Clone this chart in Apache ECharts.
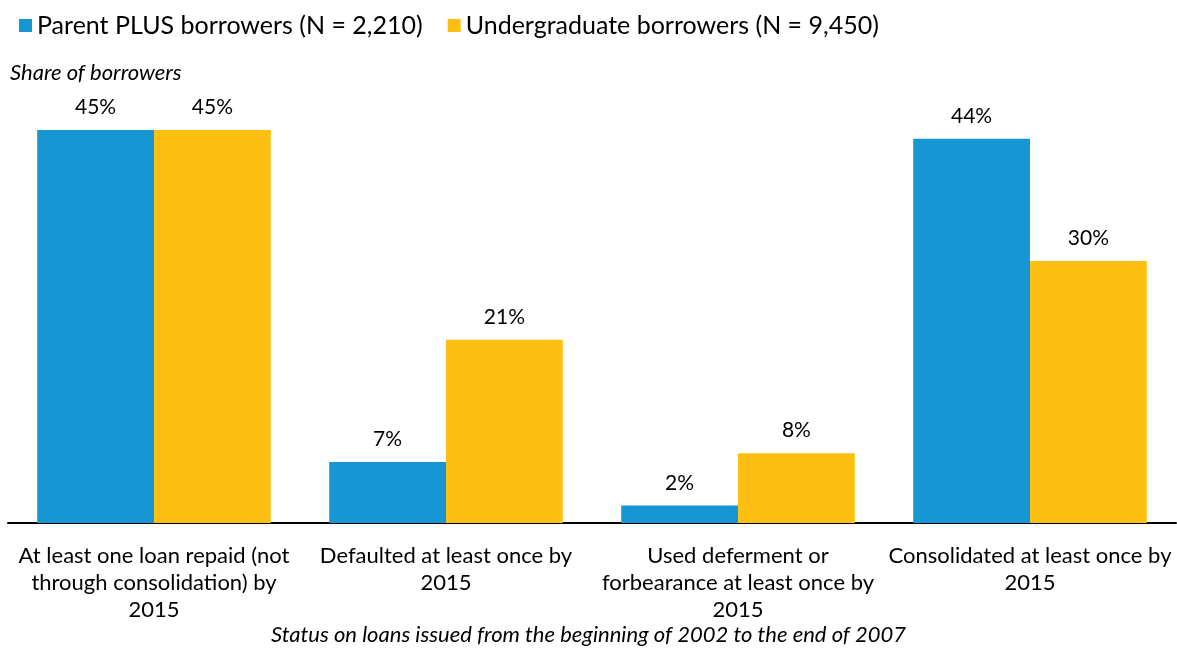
<!DOCTYPE html>
<html>
<head>
<meta charset="utf-8">
<script src="https://cdn.jsdelivr.net/npm/echarts@6/dist/echarts.min.js"></script>
<style>
  html, body { margin: 0; padding: 0; background: #fff; }
  #chart { width: 1177px; height: 648px; }
</style>
</head>
<body>
<div id="chart"></div>
<script>
// Loan status categories
const categories = [
  'At least one loan repaid (not\nthrough consolidation) by\n2015',
  'Defaulted at least once by\n2015',
  'Used deferment or\nforbearance at least once by\n2015',
  'Consolidated at least once by\n2015'
];
// Share of borrowers, percent
const parentPlus = [45, 7, 2, 44];
const undergraduate = [45, 21, 8, 30];
const seriesNames = ['Parent PLUS borrowers (N = 2,210)', 'Undergraduate borrowers (N = 9,450)'];

const FONT = 'Lato';
const chart = echarts.init(document.getElementById('chart'));

const labelStyle = {
  show: true,
  position: 'top',
  distance: 12,
  formatter: p => p.value + '%',
  color: '#000',
  fontFamily: FONT,
  fontSize: 21
};

chart.setOption({
  animation: false,
  textStyle: { fontFamily: FONT },
  legend: {
    left: 14,
    top: 8,
    itemWidth: 13,
    itemHeight: 13,
    itemGap: 25,
    icon: 'rect',
    textStyle: { fontFamily: FONT, fontSize: 25, color: '#000' },
    data: seriesNames
  },
  graphic: [
    {
      type: 'text',
      left: 10,
      top: 62,
      style: { text: 'Share of borrowers', font: 'italic 22px Lato', fill: '#000' }
    },
    {
      type: 'text',
      left: 'center',
      top: 624,
      style: { text: 'Status on loans issued from the beginning of 2002 to the end of 2007', font: 'italic 22px Lato', fill: '#000' }
    }
  ],
  grid: { left: 8, right: 1, top: 86.4, bottom: 125, containLabel: false },
  xAxis: {
    type: 'category',
    data: categories,
    axisLine: { show: true, lineStyle: { color: '#000', width: 2 } },
    axisTick: { show: false },
    axisLabel: {
      interval: 0,
      margin: 19,
      color: '#000',
      fontFamily: FONT,
      fontSize: 22,
      lineHeight: 27,
      align: 'center'
    }
  },
  yAxis: {
    type: 'value',
    min: 0,
    max: 50,
    show: false,
    splitLine: { show: false }
  },
  series: [
    {
      name: seriesNames[0],
      type: 'bar',
      data: parentPlus,
      itemStyle: { color: '#1696d2' },
      barGap: '0%',
      barCategoryGap: '20%',
      label: labelStyle
    },
    {
      name: seriesNames[1],
      type: 'bar',
      data: undergraduate,
      itemStyle: { color: '#fdbf11' },
      barGap: '0%',
      barCategoryGap: '20%',
      label: labelStyle
    }
  ]
});
</script>
</body>
</html>
